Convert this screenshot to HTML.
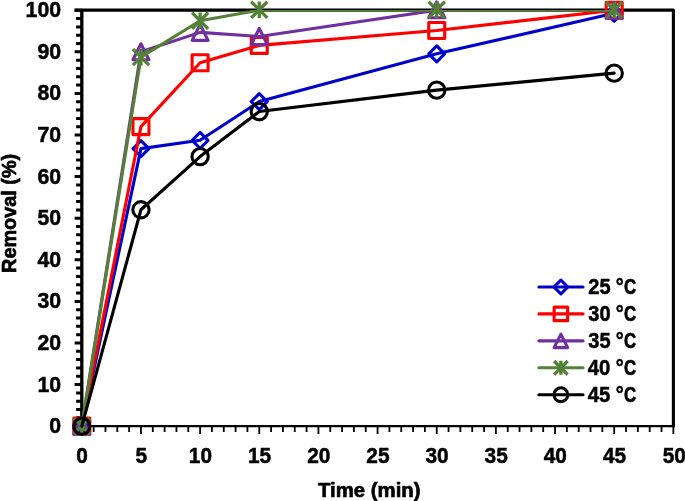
<!DOCTYPE html>
<html lang="en">
<head>
<meta charset="utf-8">
<title>Removal (%) vs Time (min)</title>
<style>
html,body{margin:0;padding:0;background:#fff;}
body{width:685px;height:501px;overflow:hidden;}
svg{display:block;}
text{font-family:"Liberation Sans",sans-serif;font-weight:bold;font-size:21.6px;fill:#000;stroke:#000;stroke-width:0.5px;stroke-linejoin:round;}
</style>
</head>
<body>
<svg width="685" height="501" viewBox="0 0 685 501">
<rect x="0" y="0" width="685" height="501" fill="#fff"/>
<defs><clipPath id="pc"><rect x="0" y="10.0" width="685" height="491"/></clipPath></defs>

<path d="M74.60 10.10H673.40V427.35" fill="none" stroke="#000" stroke-width="3.1" stroke-linejoin="round"/>
<path d="M81.80 10.25V426.15" fill="none" stroke="#000" stroke-width="3.3"/>
<path d="M81.80 426.15H674.75" fill="none" stroke="#000" stroke-width="2.4"/>
<path d="M74.60 426.15H81.80M76.10 417.83H81.80M76.10 409.51H81.80M76.10 401.20H81.80M76.10 392.88H81.80M74.60 384.56H81.80M76.10 376.24H81.80M76.10 367.92H81.80M76.10 359.61H81.80M76.10 351.29H81.80M74.60 342.97H81.80M76.10 334.65H81.80M76.10 326.33H81.80M76.10 318.02H81.80M76.10 309.70H81.80M74.60 301.38H81.80M76.10 293.06H81.80M76.10 284.74H81.80M76.10 276.43H81.80M76.10 268.11H81.80M74.60 259.79H81.80M76.10 251.47H81.80M76.10 243.15H81.80M76.10 234.84H81.80M76.10 226.52H81.80M74.60 218.20H81.80M76.10 209.88H81.80M76.10 201.56H81.80M76.10 193.25H81.80M76.10 184.93H81.80M74.60 176.61H81.80M76.10 168.29H81.80M76.10 159.97H81.80M76.10 151.66H81.80M76.10 143.34H81.80M74.60 135.02H81.80M76.10 126.70H81.80M76.10 118.38H81.80M76.10 110.07H81.80M76.10 101.75H81.80M74.60 93.43H81.80M76.10 85.11H81.80M76.10 76.79H81.80M76.10 68.48H81.80M76.10 60.16H81.80M74.60 51.84H81.80M76.10 43.52H81.80M76.10 35.20H81.80M76.10 26.89H81.80M76.10 18.57H81.80M74.60 10.25H81.80" fill="none" stroke="#000" stroke-width="3.0"/>
<path d="M81.80 426.15V434.05M93.63 426.15V432.05M105.46 426.15V432.05M117.29 426.15V432.05M129.12 426.15V432.05M140.96 426.15V434.05M152.79 426.15V432.05M164.62 426.15V432.05M176.45 426.15V432.05M188.28 426.15V432.05M200.11 426.15V434.05M211.94 426.15V432.05M223.77 426.15V432.05M235.60 426.15V432.05M247.43 426.15V432.05M259.27 426.15V434.05M271.10 426.15V432.05M282.93 426.15V432.05M294.76 426.15V432.05M306.59 426.15V432.05M318.42 426.15V434.05M330.25 426.15V432.05M342.08 426.15V432.05M353.91 426.15V432.05M365.74 426.15V432.05M377.58 426.15V434.05M389.41 426.15V432.05M401.24 426.15V432.05M413.07 426.15V432.05M424.90 426.15V432.05M436.73 426.15V434.05M448.56 426.15V432.05M460.39 426.15V432.05M472.22 426.15V432.05M484.05 426.15V432.05M495.89 426.15V434.05M507.72 426.15V432.05M519.55 426.15V432.05M531.38 426.15V432.05M543.21 426.15V432.05M555.04 426.15V434.05M566.87 426.15V432.05M578.70 426.15V432.05M590.53 426.15V432.05M602.36 426.15V432.05M614.20 426.15V434.05M626.03 426.15V432.05M637.86 426.15V432.05M649.69 426.15V432.05M661.52 426.15V432.05M673.35 426.15V434.05" fill="none" stroke="#000" stroke-width="1.8"/>
<g text-anchor="end">
<text transform="translate(61.1 433.20) scale(0.985 1)">0</text>
<text transform="translate(61.1 391.61) scale(0.985 1)">10</text>
<text transform="translate(61.1 350.02) scale(0.985 1)">20</text>
<text transform="translate(61.1 308.43) scale(0.985 1)">30</text>
<text transform="translate(61.1 266.84) scale(0.985 1)">40</text>
<text transform="translate(61.1 225.25) scale(0.985 1)">50</text>
<text transform="translate(61.1 183.66) scale(0.985 1)">60</text>
<text transform="translate(61.1 142.07) scale(0.985 1)">70</text>
<text transform="translate(61.1 100.48) scale(0.985 1)">80</text>
<text transform="translate(61.1 58.89) scale(0.985 1)">90</text>
<text transform="translate(61.1 17.30) scale(0.985 1)">100</text>
</g>
<g text-anchor="middle">
<text transform="translate(82.10 463.3) scale(0.965 1)">0</text>
<text transform="translate(141.26 463.3) scale(0.965 1)">5</text>
<text transform="translate(200.41 463.3) scale(0.965 1)">10</text>
<text transform="translate(259.57 463.3) scale(0.965 1)">15</text>
<text transform="translate(318.72 463.3) scale(0.965 1)">20</text>
<text transform="translate(377.88 463.3) scale(0.965 1)">25</text>
<text transform="translate(437.03 463.3) scale(0.965 1)">30</text>
<text transform="translate(496.19 463.3) scale(0.965 1)">35</text>
<text transform="translate(555.34 463.3) scale(0.965 1)">40</text>
<text transform="translate(614.50 463.3) scale(0.965 1)">45</text>
<text transform="translate(674.25 463.3) scale(0.965 1)">50</text>
</g>
<text transform="translate(369.3 497.0) scale(0.97 1)" text-anchor="middle" style="font-size:21px;stroke-width:0.7px">Time (min)</text>
<text transform="translate(15.7 213.4) rotate(-90) scale(0.945 1)" text-anchor="middle" style="font-size:21px;stroke-width:0.7px">Removal (%)</text>
<g>
<polyline points="81.80,426.15 140.96,148.60 200.11,140.30 259.27,101.60 436.73,53.85 614.20,13.30" fill="none" stroke="#0000CC" stroke-width="3.1" stroke-linejoin="round" stroke-linecap="round" clip-path="url(#pc)"/>
<path d="M81.80 418.20L89.75 426.15L81.80 434.10L73.85 426.15Z" fill="none" stroke="#0000CC" stroke-width="3.1" stroke-linejoin="round"/>
<path d="M140.96 140.65L148.91 148.60L140.96 156.55L133.01 148.60Z" fill="none" stroke="#0000CC" stroke-width="3.1" stroke-linejoin="round"/>
<path d="M200.11 132.35L208.06 140.30L200.11 148.25L192.16 140.30Z" fill="none" stroke="#0000CC" stroke-width="3.1" stroke-linejoin="round"/>
<path d="M259.27 93.65L267.22 101.60L259.27 109.55L251.32 101.60Z" fill="none" stroke="#0000CC" stroke-width="3.1" stroke-linejoin="round"/>
<path d="M436.73 45.90L444.68 53.85L436.73 61.80L428.78 53.85Z" fill="none" stroke="#0000CC" stroke-width="3.1" stroke-linejoin="round"/>
<path d="M614.20 5.35L622.15 13.30L614.20 21.25L606.25 13.30Z" fill="none" stroke="#0000CC" stroke-width="3.1" stroke-linejoin="round"/>
</g>
<g>
<polyline points="81.80,426.15 140.96,126.60 200.11,62.75 259.27,45.40 436.73,30.50 614.20,10.20" fill="none" stroke="#FF0000" stroke-width="3.1" stroke-linejoin="round" stroke-linecap="round" clip-path="url(#pc)"/>
<rect x="73.80" y="418.15" width="16.00" height="16.00" fill="none" stroke="#FF0000" stroke-width="3.1" stroke-linejoin="round"/>
<rect x="132.96" y="118.60" width="16.00" height="16.00" fill="none" stroke="#FF0000" stroke-width="3.1" stroke-linejoin="round"/>
<rect x="192.11" y="54.75" width="16.00" height="16.00" fill="none" stroke="#FF0000" stroke-width="3.1" stroke-linejoin="round"/>
<rect x="251.27" y="37.40" width="16.00" height="16.00" fill="none" stroke="#FF0000" stroke-width="3.1" stroke-linejoin="round"/>
<rect x="428.73" y="22.50" width="16.00" height="16.00" fill="none" stroke="#FF0000" stroke-width="3.1" stroke-linejoin="round"/>
<rect x="606.20" y="2.25" width="16.00" height="16.00" fill="none" stroke="#FF0000" stroke-width="3.1" stroke-linejoin="round"/>
</g>
<g>
<polyline points="81.80,426.15 140.96,51.75 200.11,32.35 259.27,36.45 436.73,10.20 614.20,10.20" fill="none" stroke="#7030A0" stroke-width="3.1" stroke-linejoin="round" stroke-linecap="round" clip-path="url(#pc)"/>
<path d="M81.80 418.15L89.80 434.15L73.80 434.15Z" fill="none" stroke="#7030A0" stroke-width="3.1" stroke-linejoin="round"/>
<path d="M140.96 43.75L148.96 59.75L132.96 59.75Z" fill="none" stroke="#7030A0" stroke-width="3.1" stroke-linejoin="round"/>
<path d="M200.11 24.35L208.11 40.35L192.11 40.35Z" fill="none" stroke="#7030A0" stroke-width="3.1" stroke-linejoin="round"/>
<path d="M259.27 28.45L267.27 44.45L251.27 44.45Z" fill="none" stroke="#7030A0" stroke-width="3.1" stroke-linejoin="round"/>
<path d="M436.73 1.80L444.73 17.80L428.73 17.80Z" fill="none" stroke="#7030A0" stroke-width="3.1" stroke-linejoin="round"/>
<path d="M614.20 2.30L622.20 18.30L606.20 18.30Z" fill="none" stroke="#7030A0" stroke-width="3.1" stroke-linejoin="round"/>
</g>
<g>
<polyline points="81.80,426.15 140.96,57.15 200.11,20.75 259.27,10.20 436.73,10.20 614.20,10.20" fill="none" stroke="#548235" stroke-width="3.1" stroke-linejoin="round" stroke-linecap="round" clip-path="url(#pc)"/>
<path d="M73.75 418.10L89.85 434.20M89.85 418.10L73.75 434.20M81.80 417.85L81.80 434.45" fill="none" stroke="#548235" stroke-width="3.3"/>
<path d="M132.91 49.10L149.01 65.20M149.01 49.10L132.91 65.20M140.96 48.85L140.96 65.45" fill="none" stroke="#548235" stroke-width="3.3"/>
<path d="M192.06 12.70L208.16 28.80M208.16 12.70L192.06 28.80M200.11 12.45L200.11 29.05" fill="none" stroke="#548235" stroke-width="3.3"/>
<path d="M251.22 1.75L267.32 17.85M267.32 1.75L251.22 17.85M259.27 1.50L259.27 18.10" fill="none" stroke="#548235" stroke-width="3.3"/>
<path d="M428.68 1.75L444.78 17.85M444.78 1.75L428.68 17.85M436.73 1.50L436.73 18.10" fill="none" stroke="#548235" stroke-width="3.3"/>
<path d="M606.15 2.00L622.25 18.10M622.25 2.00L606.15 18.10M614.20 1.75L614.20 18.35" fill="none" stroke="#548235" stroke-width="3.3"/>
</g>
<g>
<polyline points="81.80,426.15 140.96,209.75 200.11,156.60 259.27,111.55 436.73,90.15 614.20,73.15" fill="none" stroke="#000000" stroke-width="3.1" stroke-linejoin="round" stroke-linecap="round" clip-path="url(#pc)"/>
<circle cx="81.80" cy="426.15" r="8.15" fill="none" stroke="#000000" stroke-width="3.1"/>
<circle cx="140.96" cy="209.75" r="8.15" fill="none" stroke="#000000" stroke-width="3.1"/>
<circle cx="200.11" cy="156.60" r="8.15" fill="none" stroke="#000000" stroke-width="3.1"/>
<circle cx="259.27" cy="111.55" r="8.15" fill="none" stroke="#000000" stroke-width="3.1"/>
<circle cx="436.73" cy="90.15" r="8.15" fill="none" stroke="#000000" stroke-width="3.1"/>
<circle cx="614.20" cy="73.15" r="8.15" fill="none" stroke="#000000" stroke-width="3.1"/>
</g>
<path d="M538.9 287.00H583.0" fill="none" stroke="#0000CC" stroke-width="3.1" stroke-linecap="round"/>
<path d="M560.90 280.04L567.86 287.00L560.90 293.96L553.94 287.00Z" fill="none" stroke="#0000CC" stroke-width="3.1" stroke-linejoin="round"/>
<text y="294.10" style="font-size:21.4px;stroke-width:0.5px"><tspan x="588.3" textLength="27.8" lengthAdjust="spacingAndGlyphs">25 </tspan><tspan x="615.8" textLength="7.9" lengthAdjust="spacingAndGlyphs">°</tspan><tspan x="624.0" textLength="12.1" lengthAdjust="spacingAndGlyphs" style="stroke-width:0.7px">C</tspan></text>
<path d="M538.9 313.90H583.0" fill="none" stroke="#FF0000" stroke-width="3.1" stroke-linecap="round"/>
<rect x="554.14" y="307.14" width="13.52" height="13.52" fill="none" stroke="#FF0000" stroke-width="3.1" stroke-linejoin="round"/>
<text y="321.00" style="font-size:21.4px;stroke-width:0.5px"><tspan x="588.3" textLength="27.8" lengthAdjust="spacingAndGlyphs">30 </tspan><tspan x="615.8" textLength="7.9" lengthAdjust="spacingAndGlyphs">°</tspan><tspan x="624.0" textLength="12.1" lengthAdjust="spacingAndGlyphs" style="stroke-width:0.7px">C</tspan></text>
<path d="M538.9 340.85H583.0" fill="none" stroke="#7030A0" stroke-width="3.1" stroke-linecap="round"/>
<path d="M560.90 334.09L567.66 347.61L554.14 347.61Z" fill="none" stroke="#7030A0" stroke-width="3.1" stroke-linejoin="round"/>
<text y="347.95" style="font-size:21.4px;stroke-width:0.5px"><tspan x="588.3" textLength="27.8" lengthAdjust="spacingAndGlyphs">35 </tspan><tspan x="615.8" textLength="7.9" lengthAdjust="spacingAndGlyphs">°</tspan><tspan x="624.0" textLength="12.1" lengthAdjust="spacingAndGlyphs" style="stroke-width:0.7px">C</tspan></text>
<path d="M538.9 367.80H583.0" fill="none" stroke="#548235" stroke-width="3.1" stroke-linecap="round"/>
<path d="M554.10 361.00L567.70 374.60M567.70 361.00L554.10 374.60M560.90 360.79L560.90 374.81" fill="none" stroke="#548235" stroke-width="3.3"/>
<text y="374.90" style="font-size:21.4px;stroke-width:0.5px"><tspan x="587.8" textLength="28.3" lengthAdjust="spacingAndGlyphs">40 </tspan><tspan x="615.8" textLength="7.9" lengthAdjust="spacingAndGlyphs">°</tspan><tspan x="624.0" textLength="12.1" lengthAdjust="spacingAndGlyphs" style="stroke-width:0.7px">C</tspan></text>
<path d="M538.9 394.70H583.0" fill="none" stroke="#000000" stroke-width="3.1" stroke-linecap="round"/>
<circle cx="560.90" cy="394.70" r="6.89" fill="none" stroke="#000000" stroke-width="3.1"/>
<text y="401.80" style="font-size:21.4px;stroke-width:0.5px"><tspan x="587.8" textLength="28.3" lengthAdjust="spacingAndGlyphs">45 </tspan><tspan x="615.8" textLength="7.9" lengthAdjust="spacingAndGlyphs">°</tspan><tspan x="624.0" textLength="12.1" lengthAdjust="spacingAndGlyphs" style="stroke-width:0.7px">C</tspan></text>
</svg>
</body>
</html>
